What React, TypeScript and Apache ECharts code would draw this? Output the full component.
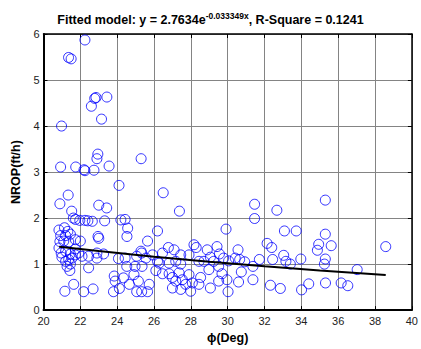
import React, { useEffect, useRef } from "react";
import * as echarts from "echarts";

// Friction angle (deg) vs normalized rate of penetration (ft/h)
const observations: [number, number][] = [
  [22.25, 5.87], [21.36, 5.49], [21.5, 5.46], [22.85, 4.62], [22.78, 4.6], [23.44, 4.63],
  [22.6, 4.43], [23.15, 4.15], [20.98, 4.0], [22.95, 3.39], [22.9, 3.29], [25.3, 3.29],
  [20.93, 3.11], [21.75, 3.11], [22.2, 3.05], [22.25, 3.03], [22.74, 3.04], [23.56, 3.13],
  [24.1, 2.71], [26.5, 2.55], [21.34, 2.5], [20.89, 2.31], [21.53, 2.15], [23.0, 2.28],
  [23.43, 2.22], [27.38, 2.15], [21.62, 2.0], [21.74, 1.97], [21.97, 1.95], [22.25, 1.95],
  [22.41, 1.94], [22.65, 1.93], [23.32, 1.94], [24.2, 1.96], [24.43, 1.97], [24.57, 1.78],
  [24.53, 1.6], [22.96, 1.6], [23.0, 1.56], [25.65, 1.5], [26.19, 1.72], [29.91, 1.76],
  [31.46, 2.3], [31.46, 1.99], [32.67, 2.17], [35.3, 2.39], [33.08, 1.72], [33.72, 1.72],
  [35.3, 1.65], [34.94, 1.43], [34.87, 1.3], [35.62, 1.4], [38.58, 1.38], [37.03, 0.88],
  [36.16, 0.59], [36.52, 0.53], [35.3, 1.11], [35.25, 1.0], [35.31, 0.59], [34.01, 0.44],
  [34.4, 0.57],
  [20.84, 1.74], [21.14, 1.79], [21.32, 1.71], [20.93, 1.62], [21.2, 1.62], [21.46, 1.65],
  [20.89, 1.49], [21.1, 1.5], [21.37, 1.48], [21.73, 1.53], [22.0, 1.5], [20.84, 1.35],
  [20.96, 1.24], [21.2, 1.28], [21.46, 1.22], [21.73, 1.2], [21.91, 1.24], [22.09, 1.17],
  [21.0, 1.15], [21.2, 1.06], [21.37, 1.1], [21.55, 1.13], [21.28, 0.95], [21.46, 1.0],
  [21.43, 0.86], [21.73, 1.33], [22.45, 0.92], [22.45, 1.17], [22.9, 1.13], [22.9, 1.24],
  [23.26, 1.22], [21.16, 0.41], [21.64, 0.56], [22.18, 0.4], [22.69, 0.46],
  [23.84, 0.74], [23.89, 0.63], [23.8, 0.4], [24.12, 0.47], [24.34, 0.7], [24.66, 0.56],
  [25.06, 0.4], [25.15, 0.63], [25.33, 0.4], [24.91, 0.77], [24.97, 0.95], [24.52, 0.95],
  [24.43, 1.13], [24.07, 1.12], [25.06, 1.17], [25.33, 1.24],
  [25.29, 1.28], [26.78, 1.36], [27.09, 1.31], [26.46, 1.24], [27.45, 1.2], [25.92, 1.2],
  [25.56, 1.13], [26.19, 1.06], [26.82, 1.02], [27.45, 1.0], [25.35, 0.95], [26.1, 0.86],
  [26.46, 0.79], [27.0, 0.71], [27.18, 0.63], [27.54, 0.66], [27.72, 0.56], [27.45, 0.45],
  [27.0, 0.48], [27.99, 0.41], [28.08, 0.59], [28.44, 0.56], [28.53, 0.71], [29.06, 0.48],
  [29.51, 0.63], [29.69, 0.79], [29.96, 0.66], [30.02, 0.4], [29.51, 0.95], [28.98, 0.88],
  [25.74, 0.56], [25.65, 0.4],
  [28.17, 1.42], [28.29, 1.36], [28.44, 1.06], [28.71, 1.06], [28.89, 1.31], [29.06, 1.15],
  [29.24, 1.06], [29.42, 1.38], [29.55, 1.22], [29.78, 1.13], [30.05, 1.07], [30.41, 1.13],
  [30.56, 1.31], [27.9, 1.2], [27.18, 1.06], [26.28, 1.02], [26.82, 0.79], [27.9, 0.77],
  [27.36, 0.81],
  [30.65, 1.1], [30.92, 1.05], [31.37, 0.95], [31.72, 1.1], [32.14, 1.45], [32.39, 1.36],
  [32.44, 1.1], [33.04, 1.19], [33.16, 1.06], [33.4, 1.0], [33.97, 1.11], [30.74, 0.83],
  [31.37, 0.66], [30.59, 0.61], [32.32, 0.54], [32.86, 0.47],
];

// Fitted exponential model y = a * e^(b x)
const fitA = 2.7634;
const fitB = -0.033349;
const rSquare = 0.1241;
const fitXs = [20.85, 23, 26, 29, 32, 35, 38.58];

const xTickRange = { min: 20, max: 40, interval: 2 };
const yTickRange = { min: 0, max: 6, interval: 1 };

const FONT = "'Liberation Sans', Arial, Helvetica, sans-serif";

export default function App() {
  const ref = useRef<HTMLDivElement>(null);

  useEffect(() => {
    if (!ref.current) return;
    const chart = echarts.init(ref.current, undefined, { renderer: "svg" });

    const fitLine = fitXs.map((x) => [x, fitA * Math.exp(fitB * x)]);

    const gridLine = { show: true, lineStyle: { color: "#848484", width: 1 } };
    const tickLabel = { color: "#222", fontSize: 11, fontFamily: FONT };

    chart.setOption({
      animation: false,
      backgroundColor: "#fff",
      title: {
        left: "center",
        top: 11,
        padding: [0, 0, 0, 37],
        text: `{b|Fitted model: y = ${fitA}e}{s|${fitB}x}{b|, R-Square = ${rSquare}}`,
        textStyle: {
          rich: {
            b: { fontSize: 12.5, fontWeight: "bold", fontFamily: FONT, color: "#000", lineHeight: 18 },
            s: { fontSize: 8.5, fontWeight: "bold", fontFamily: FONT, color: "#000", lineHeight: 8, verticalAlign: "top" },
          },
        },
      },
      grid: { left: 43.5, right: 6, top: 34, bottom: 36.5, containLabel: false },
      xAxis: [
        {
          type: "value",
          ...xTickRange,
          position: "bottom",
          name: "ϕ(Deg)",
          nameLocation: "middle",
          nameGap: 18,
          nameTextStyle: { fontSize: 12.5, fontWeight: "bold", fontFamily: FONT, color: "#000" },
          axisLine: { show: true, onZero: false, lineStyle: { color: "#000", width: 2 } },
          axisTick: { show: true, inside: true, length: 4, lineStyle: { color: "#000" } },
          axisLabel: { ...tickLabel, margin: 5 },
          splitLine: gridLine,
        },
        {
          type: "value",
          ...xTickRange,
          position: "top",
          axisLine: { show: true, onZero: false, lineStyle: { color: "#000", width: 1.5 } },
          axisTick: { show: true, inside: true, length: 4, lineStyle: { color: "#000" } },
          axisLabel: { show: false },
          splitLine: { show: false },
        },
      ],
      yAxis: [
        {
          type: "value",
          ...yTickRange,
          position: "left",
          name: "NROP(ft/h)",
          nameLocation: "middle",
          nameGap: 14,
          nameTextStyle: { fontSize: 12.5, fontWeight: "bold", fontFamily: FONT, color: "#000" },
          axisLine: { show: true, onZero: false, lineStyle: { color: "#000", width: 2 } },
          axisTick: { show: true, inside: true, length: 4, lineStyle: { color: "#000" } },
          axisLabel: { ...tickLabel, margin: 4 },
          splitLine: gridLine,
        },
        {
          type: "value",
          ...yTickRange,
          position: "right",
          axisLine: { show: true, onZero: false, lineStyle: { color: "#000", width: 1.5 } },
          axisTick: { show: true, inside: true, length: 4, lineStyle: { color: "#000" } },
          axisLabel: { show: false },
          splitLine: { show: false },
        },
      ],
      series: [
        {
          type: "scatter",
          xAxisIndex: 0,
          yAxisIndex: 0,
          data: observations,
          symbol: "circle",
          symbolSize: 10,
          itemStyle: { color: "rgba(0,0,0,0)", borderColor: "#0000ff", borderWidth: 1 },
          emphasis: { disabled: true },
          z: 2,
        },
        {
          type: "line",
          xAxisIndex: 0,
          yAxisIndex: 0,
          data: fitLine,
          showSymbol: false,
          smooth: false,
          lineStyle: { color: "#000", width: 2 },
          z: 3,
        },
      ],
    });

    return () => chart.dispose();
  }, []);

  return (
    <div
      ref={ref}
      style={{ position: "fixed", left: 0, top: 0, width: 421, height: 349, background: "#fff" }}
    />
  );
}
